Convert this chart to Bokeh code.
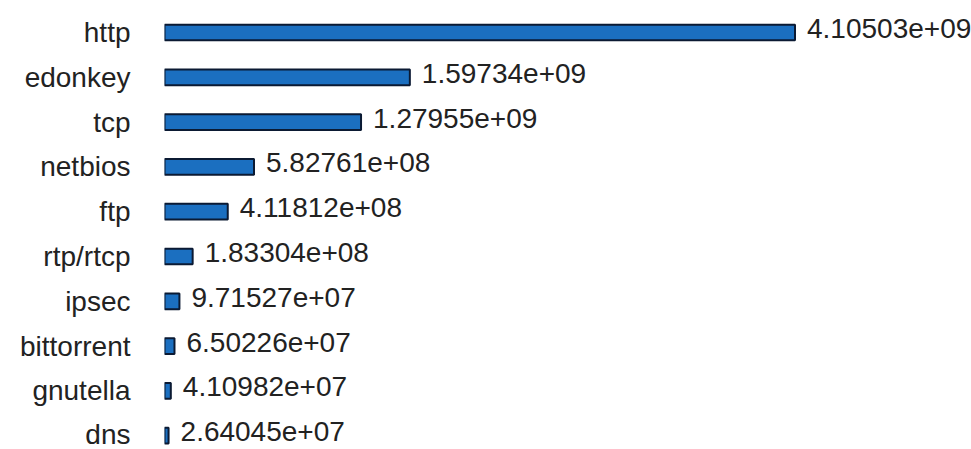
from bokeh.plotting import figure
from bokeh.models import ColumnDataSource, Range1d, FixedTicker
from bokeh.core.properties import value
from bokeh.embed import file_html
from bokeh.resources import INLINE

protocols = ["http", "edonkey", "tcp", "netbios", "ftp", "rtp/rtcp", "ipsec",
             "bittorrent", "gnutella", "dns"]
bytes_total = [4.10503e9, 1.59734e9, 1.27955e9, 5.82761e8, 4.11812e8,
               1.83304e8, 9.71527e7, 6.50226e7, 4.10982e7, 2.64045e7]

idx = list(range(len(protocols)))
labels = ["%g" % v for v in bytes_total]
src = ColumnDataSource(dict(y=idx, v=bytes_total, lab=labels))

p = figure(width=971, height=449, output_backend="svg", toolbar_location=None,
           x_range=Range1d(0, 5.254e9), y_range=Range1d(9.308, -0.714),
           x_axis_location=None)
p.min_border_left = 164
p.min_border_right = 0
p.min_border_top = 0
p.min_border_bottom = 0
p.outline_line_color = None
p.xgrid.visible = False
p.ygrid.visible = False
p.background_fill_color = "white"

p.hbar(y="y", left=0, right="v", height=0.35, source=src,
       fill_color="#1b6fc0", line_color="#0b1a33", line_width=2)

p.text(x="v", y="y", text="lab", source=src, x_offset=12, y_offset=-4,
       text_font=value("Liberation Sans"), text_font_size="28px",
       text_baseline="middle", text_align="left", text_color="#222222")

ax = p.yaxis[0]
ax.ticker = FixedTicker(ticks=idx)
ax.major_label_overrides = {i: n for i, n in zip(idx, protocols)}
ax.axis_line_color = None
ax.major_tick_line_color = None
ax.minor_tick_line_color = None
ax.major_tick_in = 0
ax.major_tick_out = 0
ax.major_label_standoff = 34
ax.major_label_text_font = "Liberation Sans"
ax.major_label_text_font_size = "28px"
ax.major_label_text_color = "#222222"

open("out.html", "w").write(file_html(p, INLINE))
